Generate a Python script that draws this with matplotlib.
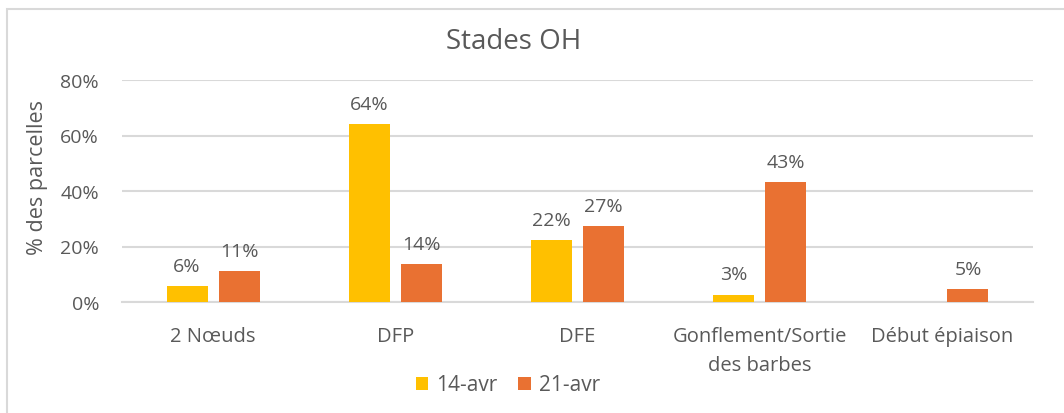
import numpy as np
import matplotlib
matplotlib.use("Agg")
import matplotlib.pyplot as plt
from matplotlib.patches import Rectangle
from matplotlib.ticker import PercentFormatter

categories = ["2 Nœuds", "DFP", "DFE", "Gonflement/Sortie\ndes barbes", "Début épiaison"]
series_names = ["14-avr", "21-avr"]
s14 = [5.8, 64.0, 22.4, 2.7, np.nan]
s21 = [11.1, 13.7, 27.4, 43.3, 4.7]
yticks = [0, 20, 40, 60, 80]
colors = ["#FFC000", "#E97132"]

plt.rcParams['font.family'] = ['Open Sans', 'DejaVu Sans']
txt = "#595959"

fig = plt.figure(figsize=(10.64, 4.14), dpi=100)
ax = fig.add_axes([122/1064, 1 - 303/414, (1033-122)/1064, (303-81)/414])

x = np.arange(len(categories))
w = 0.225
off = 0.143
for i, (vals, col, name) in enumerate(zip([s14, s21], colors, series_names)):
    xs = x + (off if i else -off)
    ax.bar(xs, vals, width=w, color=col, label=name, zorder=3)
    for xi, v in zip(xs, vals):
        if not np.isnan(v):
            ax.text(xi, v + 4, f"{round(v):d}%", ha="center", va="bottom",
                    fontsize=14, color=txt)

ax.set_xlim(-0.5, len(categories) - 0.5)
ax.set_ylim(0, 80)
ax.set_yticks(yticks)
ax.yaxis.set_major_formatter(PercentFormatter(decimals=0))
ax.set_xticks(x)
ax.set_xticklabels(categories, fontsize=14.5, color=txt, linespacing=1.6)
ax.tick_params(axis="y", labelsize=14, labelcolor=txt, length=0, pad=16.5)
ax.tick_params(axis="x", length=0, pad=17)
ax.grid(axis="y", color="#D9D9D9", linewidth=1.5, zorder=0)
for s in ["top", "right", "left"]:
    ax.spines[s].set_visible(False)
ax.spines["bottom"].set_color("#D9D9D9")
ax.spines["bottom"].set_linewidth(1.5)

fig.text(38/1064, 1 - 178/414, "% des parcelles", rotation=90, ha="center",
         va="center", fontsize=15.5, color=txt)

fig.text(514/1064, 1 - 42/414, "Stades OH", ha="center", va="center",
         fontsize=20, color=txt)

leg = fig.legend(loc="center", bbox_to_anchor=(508/1064, 1 - 386/414), ncol=2,
                 frameon=False, fontsize=15, handlelength=0.6, handleheight=0.6,
                 handletextpad=0.4, columnspacing=1.0)
for t in leg.get_texts():
    t.set_color(txt)

fig.patches.append(Rectangle((7/1064, -0.1), 1.2, 1 - 10/414 + 0.1,
                             transform=fig.transFigure, fill=False,
                             edgecolor="#D9D9D9", linewidth=1.5))

fig.savefig("out.png", dpi=100)
